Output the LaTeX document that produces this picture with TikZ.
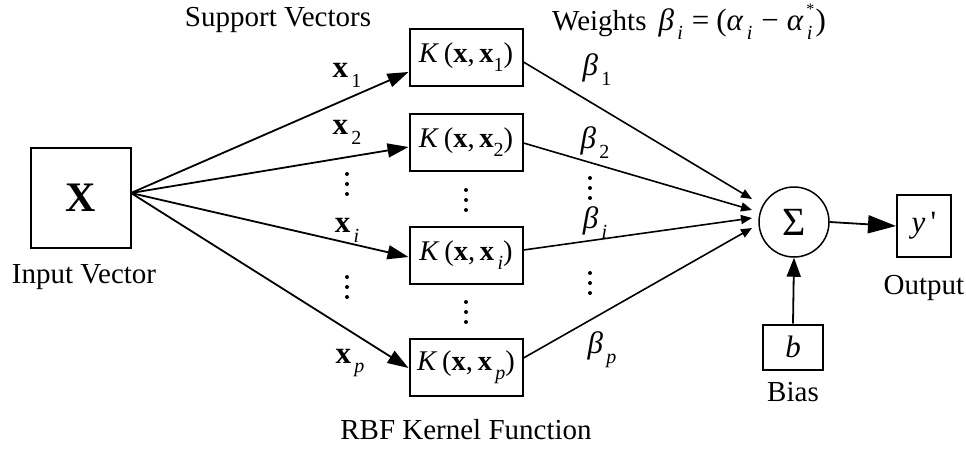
\documentclass[tikz,border=0pt]{standalone}
\usepackage{fontspec}
\setmainfont{Liberation Serif}
\usetikzlibrary{arrows.meta,calc}
\newcommand{\lo}[1]{\raisebox{-0.32em}{\fontsize{20}{20}\selectfont #1}}
\newcommand{\bfx}{\textbf{x}}
\begin{document}
\begin{tikzpicture}[x=1pt,y=-1pt,
  every node/.style={font=\fontsize{29}{32}\selectfont},
  mathtxt/.style={font=\fontsize{31}{34}\selectfont},
  box/.style={draw,line width=2pt,inner sep=0pt},
  kbox/.style={box,minimum width=113pt,minimum height=57pt,font=\fontsize{28.5}{32}\selectfont},
  lbl/.style={inner sep=0pt},
  mlbl/.style={inner sep=0pt,mathtxt},
  bigarrow/.style={line width=1.8pt,-{Triangle[length=21pt,width=14pt]}},
  smallarrow/.style={line width=1.6pt,-{Triangle[length=11pt,width=9pt]}}]
\useasboundingbox (0,0) rectangle (966,450);

% input
\node[box,minimum width=100pt,minimum height=100pt] (in) at (81,198) {\fontsize{42}{42}\selectfont\bfseries X};
\coordinate (src) at (131,193);
\node[lbl] (inlbl) at (84,277) {Input Vector};

% kernel boxes
\node[kbox] (k1) at (466,57) {\textit{K}\,(\bfx,\,\bfx\lo{1})};
\node[kbox] (k2) at (466,142) {\textit{K}\,(\bfx,\,\bfx\lo{2})};
\node[kbox] (ki) at (466,255) {\textit{K}\,(\bfx,\,\bfx\lo{\,\textit{i}})};
\node[kbox] (kp) at (466,367) {\textit{K}\,(\bfx,\,\bfx\lo{\,\textit{p}})};

\node[lbl] (sv) at (278,20) {Support Vectors};
\node[mlbl,anchor=west] (wt) at (552,22) {\fontsize{29}{32}\selectfont Weights\hspace{12pt}\fontsize{31}{34}\selectfont\textit{β}\lo{\,\textit{i}}\hspace{9pt}=\hspace{7pt}(\textit{α}\lo{\,\textit{i}}\hspace{9pt}−\hspace{8pt}\textit{α}\rlap{\raisebox{0.5em}{\fontsize{16}{16}\selectfont\,*}}\lo{\,\textit{i}}\hspace{3pt})};
\node[lbl] (rbf) at (466,430) {RBF Kernel Function};

% x labels
\node[mlbl] (x1) at (347,75) {\bfx\lo{\,1}};
\node[mlbl] (x2) at (347,132) {\bfx\lo{\,2}};
\node[mlbl] (xi) at (347,230) {\bfx\lo{\,\textit{i}}};
\node[mlbl] (xp) at (350,363) {\bfx\lo{\,\textit{p}}};

% vertical dots
\foreach \cx/\cy in {347/184, 347/287, 466/200, 466/312, 590/188, 590/283}
  \foreach \dy in {-10,0,10}
    \fill (\cx,\cy+\dy) circle (2pt);

% beta labels
\node[mlbl] (b1) at (597,70) {\textit{β}\lo{\,1}};
\node[mlbl] (b2) at (595,143) {\textit{β}\lo{\,2}};
\node[mlbl] (bi) at (595,223) {\textit{β}\lo{\,\textit{i}}};
\node[mlbl] (bp) at (602,350) {\textit{β}\lo{\,\textit{p}}};

% sum, output, bias
\node[draw,circle,line width=1.5pt,minimum size=70pt,inner sep=0pt] (sum) at (794,222) {\fontsize{40}{40}\selectfont Σ};
\node[box,minimum width=54pt,minimum height=62pt] (out) at (924,226) {\fontsize{31}{31}\selectfont\textit{y}\,\textquotesingle};
\node[lbl] (outlbl) at (924,288) {Output};
\node[box,minimum width=60pt,minimum height=45pt] (bias) at (793,347) {\fontsize{31}{31}\selectfont\textit{b}};
\node[lbl] (biaslbl) at (793,392) {Bias};

% input arrows
\draw[bigarrow] (src) -- ($(k1.west)+(0,15)$);
\draw[bigarrow] (src) -- ($(k2.west)+(0,5)$);
\draw[bigarrow] (src) -- ($(ki.west)+(0,2)$);
\draw[bigarrow] (src) -- ($(kp.west)+(0,1)$);

% output arrows to sum
\coordinate (t1) at (752,199);
\coordinate (t2) at (752,210);
\coordinate (t3) at (752,218);
\coordinate (t4) at (752,228);
\draw[smallarrow] ($(k1.east)+(0,5)$) -- (t1);
\draw[smallarrow] ($(k2.east)+(0,1)$) -- (t2);
\draw[smallarrow] ($(ki.east)+(0,-5)$) -- (t3);
\draw[smallarrow] ($(kp.east)+(0,-9)$) -- (t4);

\draw[line width=1.8pt,-{Triangle[length=28pt,width=18pt]}] (sum.east) -- (out.west);
\draw[line width=1.8pt,-{Triangle[length=19pt,width=14pt]}] (bias.north) -- (sum.south);
\end{tikzpicture}
\end{document}
